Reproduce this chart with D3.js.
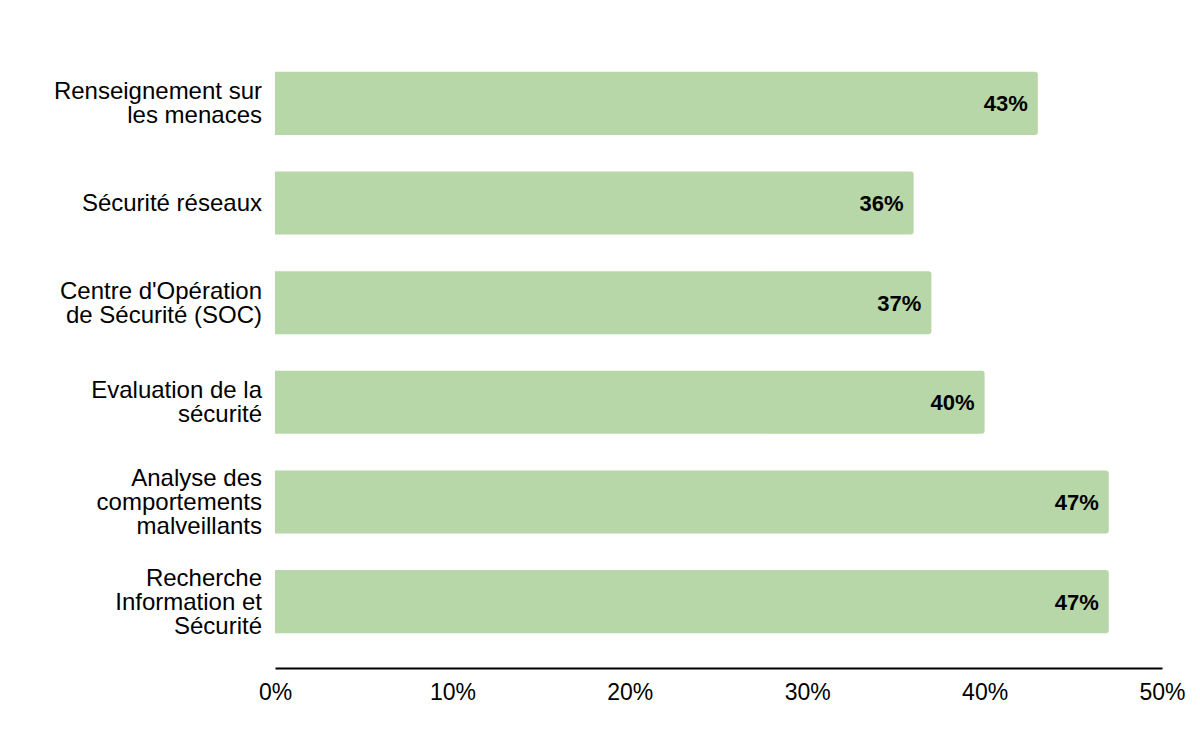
<!DOCTYPE html>
<html>
<head>
<meta charset="utf-8">
<script src="https://cdn.jsdelivr.net/npm/d3@7"></script>
<style>
  body { margin: 0; background: #fff; }
  svg { display: block; }
</style>
</head>
<body>
<div id="chart"></div>
<script>
// Category labels, each split into display lines
const categories = [
  ["Renseignement sur", "les menaces"],
  ["Sécurité réseaux"],
  ["Centre d'Opération", "de Sécurité (SOC)"],
  ["Evaluation de la", "sécurité"],
  ["Analyse des", "comportements", "malveillants"],
  ["Recherche", "Information et", "Sécurité"]
];
const values = [43, 36, 37, 40, 47, 47];
const xTicks = [0, 10, 20, 30, 40, 50];

const width = 1200, height = 742;
const margin = { top: 37, right: 38, bottom: 74, left: 275 };
const font = "'Liberation Sans', Arial, sans-serif";

const svg = d3.select("#chart").append("svg")
  .attr("width", width)
  .attr("height", height);

const x = d3.scaleLinear()
  .domain([0, 50])
  .range([margin.left, width - margin.right]);

const y = d3.scaleBand()
  .domain(d3.range(categories.length))
  .range([margin.top, height - margin.bottom])
  .paddingInner(0.367)
  .paddingOuter(0.35);

// Bars: square left edge, slightly rounded right edge
const r = 3;
svg.append("g")
  .selectAll("path")
  .data(values)
  .join("path")
  .attr("fill", "#b7d7a8")
  .attr("d", (d, i) => {
    const x0 = x(0), x1 = x(d), y0 = y(i), h = y.bandwidth();
    return `M${x0},${y0}H${x1 - r}Q${x1},${y0} ${x1},${y0 + r}` +
      `V${y0 + h - r}Q${x1},${y0 + h} ${x1 - r},${y0 + h}H${x0}Z`;
  });

// Value labels inside bar ends
svg.append("g")
  .selectAll("text")
  .data(values)
  .join("text")
  .attr("x", d => x(d) - 10)
  .attr("y", (d, i) => y(i) + y.bandwidth() / 2)
  .attr("dy", "0.36em")
  .attr("text-anchor", "end")
  .attr("font-family", font)
  .attr("font-weight", "bold")
  .attr("font-size", "22px")
  .attr("fill", "#000")
  .text(d => d + "%");

// Category labels
const catG = svg.append("g")
  .attr("font-family", font)
  .attr("font-size", "24px")
  .attr("fill", "#000")
  .attr("text-anchor", "end");

const lineH = 24;
categories.forEach((lines, i) => {
  const cy = y(i) + y.bandwidth() / 2;
  const t = catG.append("text")
    .attr("x", margin.left - 13)
    .attr("y", cy - (lines.length - 1) * lineH / 2);
  lines.forEach((line, j) => {
    t.append("tspan")
      .attr("x", margin.left - 13)
      .attr("dy", j === 0 ? "0.33em" : lineH)
      .text(line);
  });
});

// X axis
const xAxis = d3.axisBottom(x)
  .tickValues(xTicks)
  .tickSize(0)
  .tickPadding(16)
  .tickFormat(d => d + "%");

const axisG = svg.append("g")
  .attr("transform", `translate(0,${height - margin.bottom})`)
  .call(xAxis);

axisG.select(".domain")
  .attr("stroke", "#000")
  .attr("stroke-width", 2);

axisG.selectAll("text")
  .attr("font-family", font)
  .attr("font-size", "23px")
  .attr("fill", "#000");
</script>
</body>
</html>
